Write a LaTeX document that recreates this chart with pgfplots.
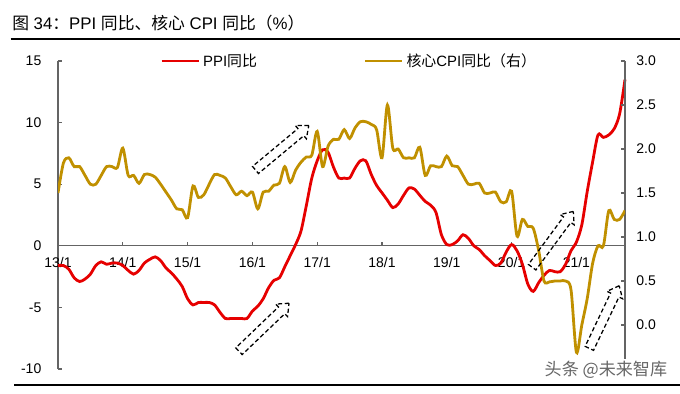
\documentclass[border=0pt]{standalone}
\usepackage{fontspec}
\setmainfont{Liberation Sans}
\newfontfamily\cjk{Noto Sans CJK SC}
\usepackage{pgfplots}
\pgfplotsset{compat=1.18}
\usepackage{pgfplotstable}
\usetikzlibrary{shapes.arrows}
\definecolor{ppired}{RGB}{230,0,0}
\definecolor{coregold}{RGB}{192,144,0}
\definecolor{axgray}{RGB}{100,100,100}

\pgfplotstableread{
m v
0 -1.6
1 -1.6
2 -1.9
3 -2.6
4 -2.9
5 -2.7
6 -2.3
7 -1.6
8 -1.3
9 -1.5
10 -1.4
11 -1.4
12 -1.6
13 -2.0
14 -2.3
15 -2.0
16 -1.4
17 -1.1
18 -0.9
19 -1.2
20 -1.8
21 -2.2
22 -2.7
23 -3.3
24 -4.3
25 -4.8
26 -4.6
27 -4.6
28 -4.6
29 -4.8
30 -5.4
31 -5.9
32 -5.9
33 -5.9
34 -5.9
35 -5.9
36 -5.3
37 -4.9
38 -4.3
39 -3.4
40 -2.8
41 -2.6
42 -1.7
43 -0.8
44 0.1
45 1.2
46 3.3
47 5.5
48 6.9
49 7.8
50 7.6
51 6.4
52 5.5
53 5.5
54 5.5
55 6.3
56 6.9
57 6.9
58 5.8
59 4.9
60 4.3
61 3.7
62 3.1
63 3.4
64 4.1
65 4.7
66 4.6
67 4.1
68 3.6
69 3.3
70 2.7
71 0.9
72 0.1
73 0.1
74 0.4
75 0.9
76 0.6
77 0.0
78 -0.3
79 -0.8
80 -1.2
81 -1.6
82 -1.4
83 -0.5
84 0.1
85 -0.4
86 -1.5
87 -3.1
88 -3.7
89 -3.0
90 -2.4
91 -2.0
92 -2.1
93 -2.1
94 -1.5
95 -0.4
96 0.3
97 1.7
98 4.4
99 6.8
100 9.0
101 8.8
102 9.0
103 9.5
104 10.7
105 13.5
}\ppidata

\pgfplotstableread{
m v
0 1.50
1 1.84
2 1.90
3 1.80
4 1.80
5 1.70
6 1.60
7 1.60
8 1.70
9 1.80
10 1.80
11 1.79
12 2.01
13 1.70
14 1.70
15 1.61
16 1.71
17 1.71
18 1.68
19 1.60
20 1.51
21 1.42
22 1.32
23 1.31
24 1.22
25 1.58
26 1.45
27 1.48
28 1.60
29 1.71
30 1.70
31 1.67
32 1.57
33 1.48
34 1.52
35 1.47
36 1.51
37 1.32
38 1.51
39 1.52
40 1.59
41 1.61
42 1.80
43 1.62
44 1.76
45 1.85
46 1.91
47 1.93
48 2.20
49 1.80
50 2.03
51 2.11
52 2.11
53 2.22
54 2.12
55 2.24
56 2.31
57 2.31
58 2.28
59 2.22
60 1.90
61 2.50
62 2.01
63 2.00
64 1.90
65 1.90
66 1.90
67 2.02
68 1.70
69 1.81
70 1.80
71 1.80
72 1.92
73 1.81
74 1.80
75 1.70
76 1.60
77 1.60
78 1.61
79 1.50
80 1.50
81 1.51
82 1.40
83 1.40
84 1.52
85 1.01
86 1.20
87 1.12
88 1.10
89 0.85
90 0.50
91 0.49
92 0.50
93 0.50
94 0.50
95 0.40
96 -0.31
97 0.00
98 0.30
99 0.70
100 0.90
101 0.90
102 1.30
103 1.20
104 1.20
105 1.30
}\coredata

\begin{document}
\begin{tikzpicture}
\useasboundingbox (0pt,0pt) rectangle (510pt,294.75pt);
% title and rules
\node[anchor=west, inner sep=0pt, font=\fontsize{12.6}{14}\selectfont] at (9pt,277.5pt)
  {{\cjk 图}\ 34{\cjk ：}PPI {\cjk 同比、核心} CPI {\cjk 同比（}\%{\cjk ）}};
\draw[line width=1.6pt] (8pt,265.5pt) -- (510pt,265.5pt);
\draw[line width=1.6pt] (10.5pt,6pt) -- (510pt,6pt);

\begin{axis}[
  at={(43.5pt,18pt)}, anchor=south west,
  scale only axis, width=425.25pt, height=231pt,
  xmin=0, xmax=105, ymin=-10, ymax=15,
  axis x line=middle, axis y line=left,
  hide obscured x ticks=false, hide obscured y ticks=false,
  axis line style={-, draw=axgray, line width=0.8pt},
  tick style={draw=axgray, line width=0.8pt},
  tick align=inside, major tick length=3pt,
  xtick={0,12,24,36,48,60,72,84,96},
  xticklabels={13/1,14/1,15/1,16/1,17/1,18/1,19/1,20/1,21/1},
  ytick={-10,-5,0,5,10,15},
  yticklabels={-10,-5,0,5,10,15},
  ticklabel style={font=\fontsize{10.5}{12}\selectfont, text=black},
  yticklabel style={xshift=-9pt},
  xticklabel style={yshift=-5pt},
  clip=false,
]
\addplot[ppired, line width=2.1pt, smooth] table[x=m, y=v] {\ppidata};
\end{axis}

\begin{axis}[
  at={(43.5pt,18pt)}, anchor=south west,
  scale only axis, width=425.25pt, height=231pt,
  xmin=0, xmax=105, ymin=-0.5, ymax=3.0,
  axis x line=none, axis y line*=right,
  axis line style={-, draw=axgray, line width=0.8pt},
  tick style={draw=axgray, line width=0.8pt},
  tick align=inside, major tick length=3pt,
  ytick={0,0.5,1,1.5,2,2.5,3},
  yticklabels={0.0,0.5,1.0,1.5,2.0,2.5,3.0},
  ticklabel style={font=\fontsize{10.5}{12}\selectfont, text=black},
  yticklabel style={xshift=5pt},
  legend style={at={(0.18,1.0)}, anchor=west, draw=none, fill=none, inner sep=0pt,
    font=\fontsize{11.2}{13}\selectfont, legend columns=2,
    /tikz/every even column/.append style={column sep=78pt}},
  legend image code/.code={\draw[#1] (0pt,0pt) -- (28pt,0pt);},
]
\addlegendimage{ppired, line width=2.1pt}
\addlegendentry{PPI{\cjk 同比}}
\addplot[coregold, line width=2.1pt, smooth] table[x=m, y=v] {\coredata};
\addlegendentry{{\cjk 核心}CPI{\cjk 同比（右）}}
\end{axis}

% dashed annotation arrows
\tikzset{darr/.style={single arrow, draw=black, dash pattern=on 3.2pt off 2pt,
  line width=0.95pt, fill=none,
  inner xsep=0pt, inner ysep=3pt, single arrow head extend=3pt,
  single arrow head indent=0pt, single arrow tip angle=80, minimum height=52pt}}
\node[darr, rotate=39.8] at (210pt,182.6pt) {};
\node[darr, rotate=43.8] at (196.5pt,47.9pt) {};
\node[darr, rotate=53.6] at (413.3pt,113.6pt) {};
\node[darr, rotate=64.5] at (452.3pt,55.1pt) {};

% watermark
\node[anchor=east, fill=white, inner sep=1.5pt, text=black!60,
  font=\cjk\fontsize{12.8}{14}\selectfont] at (502pt,17.5pt) {头条 @未来智库};
\end{tikzpicture}
\end{document}
